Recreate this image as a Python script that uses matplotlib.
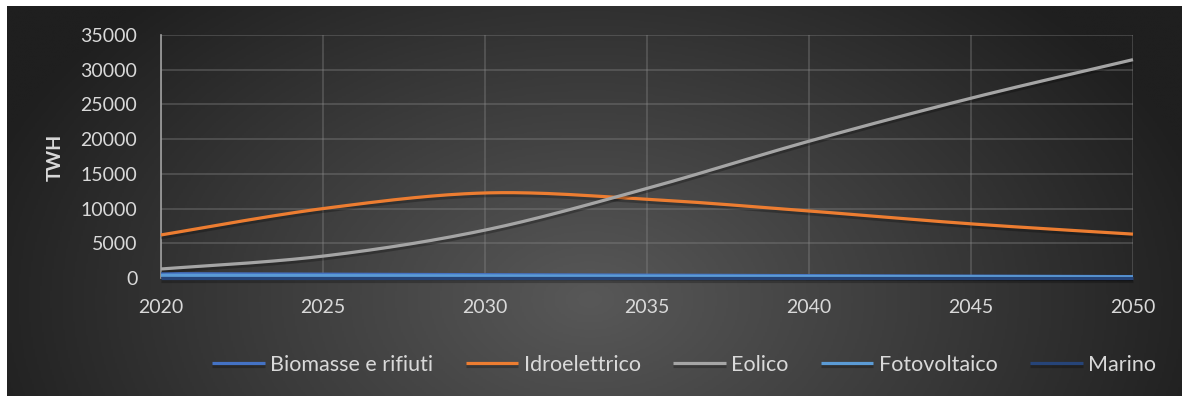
import numpy as np
import matplotlib
matplotlib.use("Agg")
import matplotlib.pyplot as plt
from matplotlib.colors import LinearSegmentedColormap
import matplotlib.patheffects as pe

# ---- data ----
years = [2020, 2025, 2030, 2035, 2040, 2045, 2050]
biomasse = [620, 550, 480, 410, 340, 270, 200]
idroelettrico = [6200, 10000, 12250, 11350, 9650, 7800, 6320]
eolico = [1300, 3150, 6900, 12900, 19700, 25900, 31450]
fotovoltaico = [380, 340, 300, 260, 220, 180, 150]
marino = [20, 20, 20, 20, 20, 20, 20]

series_names = ["Biomasse e rifiuti", "Idroelettrico", "Eolico", "Fotovoltaico", "Marino"]
series_values = [biomasse, idroelettrico, eolico, fotovoltaico, marino]
series_colors = ["#4472C4", "#ED7D31", "#A5A5A5", "#5B9BD5", "#264478"]

y_ticks = list(range(0, 35001, 5000))
x_ticks = [2020, 2025, 2030, 2035, 2040, 2045, 2050]
y_label = "TWH"

FONT = "Lato"
TEXT_COLOR = "#d9d9d9"


def smooth(xs, ys, n=40):
    """Cubic Bezier smoothing through every point (spreadsheet style)."""
    p = np.column_stack([xs, ys]).astype(float)
    ext = np.vstack([p[0], p, p[-1]])
    out = [p[:1]]
    t = np.linspace(0, 1, n)[1:, None]
    for i in range(len(p) - 1):
        p0, p1 = ext[i + 1], ext[i + 2]
        c1 = p0 + (ext[i + 2] - ext[i]) / 6.0
        c2 = p1 - (ext[i + 3] - ext[i + 1]) / 6.0
        seg = ((1 - t) ** 3) * p0 + 3 * ((1 - t) ** 2) * t * c1 + 3 * (1 - t) * t ** 2 * c2 + t ** 3 * p1
        out.append(seg)
    arr = np.vstack(out)
    return arr[:, 0], arr[:, 1]


W, H = 1182, 397
fig = plt.figure(figsize=(W / 100, H / 100), dpi=100)
fig.patch.set_facecolor("white")

# dark panel with a soft radial gradient
bg = fig.add_axes([7 / W, 1 - 396 / H, (W - 7) / W, 390 / H])
bg.set_axis_off()
gx = np.linspace(7, W, 600)
gy = np.linspace(6, 396, 200)
GX, GY = np.meshgrid(gx, gy)
r = np.sqrt(((GX - 590) / 640) ** 2 + ((GY - 300) / 420) ** 2)
r = np.clip(r, 0, 1)
cmap = LinearSegmentedColormap.from_list("panel", ["#585858", "#3c3c3c", "#1f1f1f"])
bg.imshow(r, cmap=cmap, vmin=0, vmax=1, aspect="auto", extent=[0, 1, 0, 1], origin="upper")
bg.set_xlim(0, 1)
bg.set_ylim(0, 1)

ax = fig.add_axes([161 / W, 1 - 278 / H, (1133 - 161) / W, (278 - 35) / H])
ax.set_facecolor("none")

for name, vals, col in zip(series_names, series_values, series_colors):
    sx, sy = smooth(years, vals)
    ax.plot(sx, sy, color=col, lw=2.3, label=name, solid_capstyle="butt", clip_on=False,
            path_effects=[pe.SimpleLineShadow(offset=(0, -2), shadow_color="black", alpha=0.25),
                          pe.Normal()], zorder=3)

ax.set_xlim(2020, 2050)
ax.set_ylim(0, 35000)
ax.set_xticks(x_ticks)
ax.set_yticks(y_ticks)
ax.grid(True, color="#8a8a8a", alpha=0.4, lw=1.2)
ax.set_axisbelow(True)
for s in ["top", "right", "bottom"]:
    ax.spines[s].set_visible(False)
ax.spines["left"].set_color("#a0a0a0")
ax.spines["left"].set_linewidth(1.2)
ax.tick_params(length=0, colors=TEXT_COLOR, labelsize=14)
ax.tick_params(axis="y", pad=17)
ax.tick_params(axis="x", pad=15)
for lab in ax.get_xticklabels() + ax.get_yticklabels():
    lab.set_fontfamily(FONT)
    lab.set_color(TEXT_COLOR)

fig.text(55 / W, 1 - 157 / H, y_label, rotation=90, ha="center", va="center",
         fontsize=14, fontweight="bold", color=TEXT_COLOR, fontfamily=FONT)

leg = fig.legend(loc="center", bbox_to_anchor=(684 / W, 1 - 365 / H), ncol=5, frameon=False,
                 handlelength=2.45, handletextpad=0.25, columnspacing=1.5,
                 prop={"family": FONT, "size": 15.5})
for t in leg.get_texts():
    t.set_color(TEXT_COLOR)

fig.savefig("out.png", dpi=100, facecolor=fig.get_facecolor())
